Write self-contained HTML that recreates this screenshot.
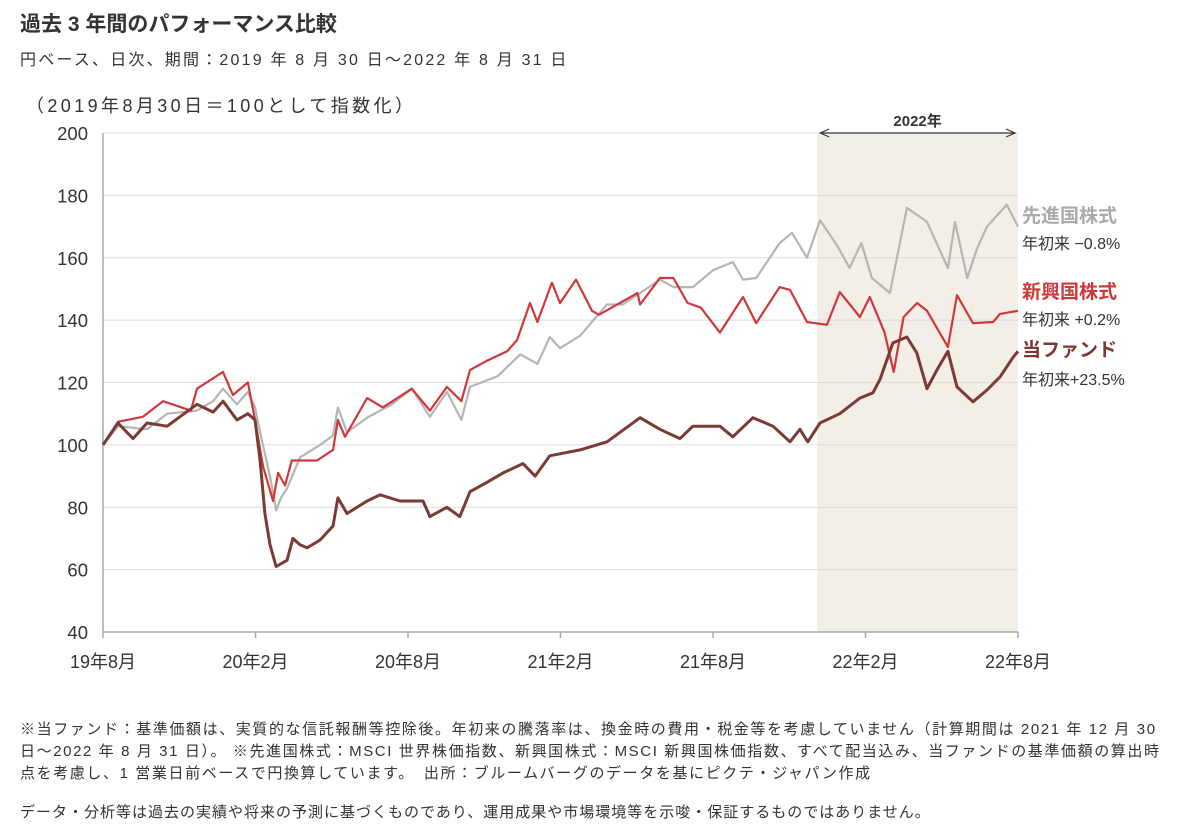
<!DOCTYPE html>
<html><head><meta charset="utf-8">
<style>
body{margin:0;background:#fff;font-family:"Liberation Sans","Noto Sans CJK JP",sans-serif;color:#333;}
#wrap{position:relative;width:1200px;height:831px;overflow:hidden;}
.t{position:absolute;white-space:nowrap;}
</style></head><body>
<div id="wrap">
<div class="t" style="left:20px;top:8px;font-size:21px;font-weight:bold;color:#333;">過去 3 年間のパフォーマンス比較</div>
<div class="t" style="left:20px;top:46px;font-size:16px;letter-spacing:2.2px;">円ベース、日次、期間：2019 年 8 月 30 日～2022 年 8 月 31 日</div>
<div class="t" style="left:26px;top:92px;font-size:18px;letter-spacing:3.4px;">（2019年8月30日＝100として指数化）</div>
<svg id="chart" width="1200" height="831" style="position:absolute;left:0;top:0"></svg>
<div class="t" style="left:20px;top:719px;font-size:15px;letter-spacing:1.6px;line-height:22px;">※当ファンド：基準価額は、実質的な信託報酬等控除後。年初来の騰落率は、換金時の費用・税金等を考慮していません（計算期間は 2021 年 12 月 30<br>日～2022 年 8 月 31 日）。 ※先進国株式：MSCI 世界株価指数、新興国株式：MSCI 新興国株価指数、すべて配当込み、当ファンドの基準価額の算出時<br>点を考慮し、1 営業日前ベースで円換算しています。　出所：ブルームバーグのデータを基にピクテ・ジャパン作成</div>
<div class="t" style="left:20px;top:801px;font-size:15px;letter-spacing:1px;">データ・分析等は過去の実績や将来の予測に基づくものであり、運用成果や市場環境等を示唆・保証するものではありません。</div>
</div>
<script>
const yTicks=[40,60,80,100,120,140,160,180,200];
const xTickLabels=["19年8月","20年2月","20年8月","21年2月","21年8月","22年2月","22年8月"];
const xTickMonths=[0,6,12,18,24,30,36];
const bandStart=28.1, bandEnd=36;
const devT=[0,0.59,1.73,2.52,3.70,4.33,4.72,5.27,5.70,5.98,6.18,6.57,6.81,7.0,7.24,7.75,8.54,9.05,9.24,9.60,10.39,11.37,12.15,12.86,13.53,14.10,14.44,15.52,16.42,17.09,17.58,17.98,18.77,19.83,20.45,21.13,21.91,22.44,23.21,24.00,24.78,25.18,25.70,26.62,27.11,27.70,28.21,28.88,29.37,29.84,30.25,30.96,31.63,32.42,33.24,33.52,34.00,34.39,34.78,35.56,36];
const devV=[100,106,105,110,111,114,118,113,117,112,104,90,79,83,86,96,100,103,112,104,108.7,113,118,109,117,108,118.6,122,129,126,134.6,131,135,145,145,148.7,153,150.6,150.6,156,158.6,153,153.5,164.7,168,160,172,164,156.7,164.7,153.5,148.7,176,171.5,156.7,171.5,153.5,163,170,177,170];
const emT=[0,0.59,1.57,2.36,3.46,3.70,4.72,5.11,5.70,5.98,6.30,6.69,6.89,7.16,7.43,8.42,9.05,9.24,9.52,10.39,11.01,12.15,12.86,13.53,14.10,14.44,15.11,15.90,16.29,16.80,17.09,17.66,17.98,18.61,19.24,19.51,21.03,21.13,21.91,22.44,23.00,23.52,24.27,25.18,25.70,26.62,27.03,27.70,28.48,28.99,29.78,30.17,30.75,31.11,31.50,32.03,32.42,33.24,33.60,34.23,35.02,35.29,36];
const emV=[100,107.4,109,114,111,118,123.4,116,120,108,93,82,91,87,95,95,98.4,108,102.6,115,112,118,111,118.6,114,124,127,130,133.6,145.5,139.4,152,145.5,153,143,141.7,148.7,145,153.5,153.5,145.5,144,136,147.4,139,150.6,149.7,139.4,138.5,149,141,147.4,136,123.4,141,145.5,143,131.4,148,139,139.4,142,143];
const fundT=[0,0.59,1.18,1.73,2.52,3.70,4.33,4.72,5.27,5.70,5.98,6.18,6.37,6.57,6.81,7.24,7.47,7.75,8.03,8.54,9.05,9.24,9.60,10.39,10.90,11.68,12.59,12.86,13.53,14.04,14.44,15.11,15.74,16.52,17.0,17.58,18.77,19.83,21.13,21.91,22.70,23.21,24.27,24.78,25.57,26.36,27.03,27.42,27.73,28.21,28.99,29.78,30.29,30.57,31.08,31.63,32.02,32.42,32.81,33.24,33.60,34.23,34.78,35.29,35.80,36];
const fundV=[100,107,102,107,106,113,110.5,114,108,110,108,95,78,68,61,63,70,68,67,69.5,74,83,78,82,84,82,82,77,80,77,85,88,91,94,90,96.5,98.4,101,108.7,105,102,106,106,102.6,108.7,106,101,105,101,107,110,115,116.7,121,132.7,134.6,129.5,118,124,130,118.6,113.8,117.6,121.8,128,130];
const svg=document.getElementById('chart');
const NS='http://www.w3.org/2000/svg';
const X0=103,X1=1018,Y0=632,Y1=133,VMIN=40,VMAX=200,TMAX=36;
const xs=t=>X0+(X1-X0)*t/TMAX;
const ys=v=>Y0-(Y0-Y1)*(v-VMIN)/(VMAX-VMIN);
function mk(tag,attrs){const e=document.createElementNS(NS,tag);for(const k in attrs)e.setAttribute(k,attrs[k]);svg.appendChild(e);return e;}
let band=mk('rect',{x:xs(bandStart),y:Y1,width:xs(bandEnd)-xs(bandStart),height:Y0-Y1,fill:'#f3eee6'});


yTicks.forEach(v=>{
  if(v>VMIN){const g=mk('line',{x1:X0,x2:X1,y1:ys(v),y2:ys(v),stroke:'#dcdcdc','stroke-width':1});
  
  }
  const tx=mk('text',{x:88,y:ys(v)+7,'text-anchor':'end','font-size':18.5,fill:'#333','font-family':'Liberation Sans, sans-serif'});
  tx.textContent=v;
  
  
});
let ax=mk('line',{x1:X0,x2:X0,y1:Y1,y2:Y0,stroke:'#aaa','stroke-width':1.5});


let bx=mk('line',{x1:X0,x2:X1,y1:Y0,y2:Y0,stroke:'#aaa','stroke-width':1.5});


xTickMonths.forEach((m,i)=>{
  const l=mk('line',{x1:xs(m),x2:xs(m),y1:Y0,y2:Y0+6,stroke:'#aaa','stroke-width':1.5});
  
  
  const tx=mk('text',{x:xs(m),y:Y0+36,'text-anchor':'middle','font-size':18,fill:'#333','font-family':'Liberation Sans, Noto Sans CJK JP, sans-serif'});
  tx.textContent=xTickLabels[i];
  
  
});
let ar=mk('line',{x1:xs(bandStart)+4,x2:xs(bandEnd)-4,y1:133,y2:133,stroke:'#333','stroke-width':1.2});


let h1=mk('path',{d:`M${xs(bandStart)+12},129 L${xs(bandStart)+3},133 L${xs(bandStart)+12},137`,fill:'none',stroke:'#333','stroke-width':1.2});


let h2=mk('path',{d:`M${xs(bandEnd)-12},129 L${xs(bandEnd)-3},133 L${xs(bandEnd)-12},137`,fill:'none',stroke:'#333','stroke-width':1.2});


let bl=mk('rect',{x:(xs(bandStart)+xs(bandEnd))/2-35,y:110,width:70,height:20,fill:'#fff'});


let bt=mk('text',{x:(xs(bandStart)+xs(bandEnd))/2,y:126,'text-anchor':'middle','font-size':15,'font-weight':'bold',fill:'#333','font-family':'Liberation Sans, Noto Sans CJK JP, sans-serif'});
bt.textContent='2022年';


function series(T,V,color,w,name){
  const d=T.map((t,i)=>(i?'L':'M')+xs(t).toFixed(1)+','+ys(V[i]).toFixed(1)).join(' ');
  const p=mk('path',{d:d,fill:'none',stroke:color,'stroke-width':w,'stroke-linejoin':'round'});
  
  
}
series(devT,devV,'#b5b5b5',2.2,'developed-stocks-line');
series(emT,emV,'#d0383a',2.2,'emerging-stocks-line');
series(fundT,fundV,'#7b3a33',3,'fund-line');
const legend=[
 ['先進国株式',1022,222,'#aaaaaa',19,'bold','legend-developed'],
 ['年初来 −0.8%',1022,249,'#333',16,'normal','legend-developed-ytd'],
 ['新興国株式',1022,298,'#d0383a',19,'bold','legend-emerging'],
 ['年初来 +0.2%',1022,325,'#333',16,'normal','legend-emerging-ytd'],
 ['当ファンド',1022,356,'#7b3a33',19,'bold','legend-fund'],
 ['年初来+23.5%',1022,385,'#333',16,'normal','legend-fund-ytd']];
legend.forEach(l=>{
  const tx=mk('text',{x:l[1],y:l[2],'font-size':l[4],'font-weight':l[5],fill:l[3],'font-family':'Liberation Sans, Noto Sans CJK JP, sans-serif'});
  tx.textContent=l[0];
  
  
});
</script>
</body></html>
